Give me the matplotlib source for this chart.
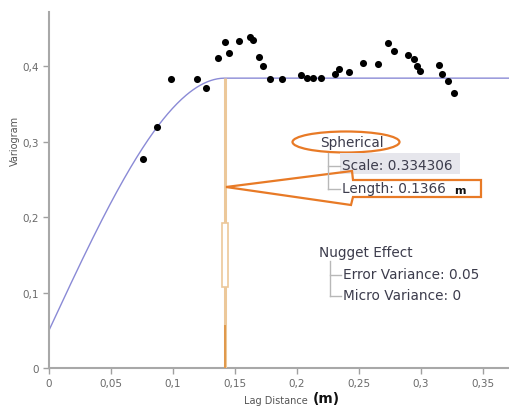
import numpy as np
import matplotlib
matplotlib.use("Agg")
import matplotlib.pyplot as plt
from matplotlib.patches import Ellipse, Polygon, Rectangle

# ---- data ----
lag = [0.0756, 0.0868, 0.0981, 0.1196, 0.1266, 0.1363, 0.1419, 0.1452, 0.1535,
       0.1621, 0.1648, 0.1691, 0.1723, 0.1782, 0.1882, 0.2030, 0.2078, 0.2132,
       0.2191, 0.2309, 0.2341, 0.2419, 0.2530, 0.2656, 0.2734, 0.2782, 0.2895,
       0.2946, 0.2970, 0.2995, 0.3143, 0.3167, 0.3220, 0.3264]
gamma = [0.277, 0.320, 0.383, 0.383, 0.371, 0.411, 0.432, 0.418, 0.434,
         0.439, 0.435, 0.412, 0.401, 0.383, 0.383, 0.389, 0.385, 0.384,
         0.384, 0.3895, 0.3966, 0.3926, 0.4045, 0.4028, 0.4306, 0.420, 0.415,
         0.4094, 0.400, 0.394, 0.4015, 0.3895, 0.380, 0.364]
nugget = 0.05
scale = 0.334306
model_range = 0.1419
xticks = [0, 0.05, 0.1, 0.15, 0.2, 0.25, 0.3, 0.35]
xticklabels = ["0", "0,05", "0,1", "0,15", "0,2", "0,25", "0,3", "0,35"]
yticks = [0, 0.1, 0.2, 0.3, 0.4]
yticklabels = ["0", "0,1", "0,2", "0,3", "0,4"]

W, H = 509, 410
fig = plt.figure(figsize=(W / 100, H / 100), dpi=100)
ax = fig.add_axes([49 / W, 1 - 369 / H, 460 / W, 356 / H])
ax.set_xlim(0, 0.371)
ax.set_ylim(0, 0.472)

def P(x, y):
    return (x / W, 1 - y / H)

# model curve
h = np.linspace(0, 0.371, 400)
r = np.clip(h / model_range, 0, 1)
g = nugget + scale * (1.5 * r - 0.5 * r ** 3)
ax.plot(h, g, color="#8a8ad6", lw=1.0, zorder=2)

# range marker line
sill = nugget + scale
ax.plot([model_range, model_range], [0, sill], color="#ecc89a", lw=2.2, zorder=3, solid_capstyle="butt")
ax.plot([model_range, model_range], [0, 0.056], color="#e0984a", lw=1.4, zorder=4)
ax.add_patch(Rectangle((model_range - 0.0024, 0.107), 0.0048, 0.085,
                       facecolor="white", edgecolor="#ecc89a", lw=1.2, zorder=5))

# points
ax.scatter(lag, gamma, s=26, color="black", zorder=6, linewidths=0)

# axes styling
for s in ["top", "right"]:
    ax.spines[s].set_visible(False)
for s in ["left", "bottom"]:
    ax.spines[s].set_color("#a8a8a8")
    ax.spines[s].set_linewidth(1.5)
ax.set_xticks(xticks)
ax.set_xticklabels(xticklabels)
ax.set_yticks(yticks)
ax.set_yticklabels(yticklabels)
ax.tick_params(colors="#a0a0a0", labelcolor="#6a6a6a", labelsize=7.5, length=4, width=1, direction="out", pad=3)

# axis labels
fig.text(*P(15, 141), "Variogram", rotation=90, ha="center", va="center", fontsize=7, color="#555555")
fig.text(*P(308, 401), "Lag Distance", ha="right", va="center", fontsize=7, color="#555555")
fig.text(*P(313, 399), "(m)", ha="left", va="center", fontsize=10, fontweight="bold", color="#111111")

txtc = "#3c3c4c"
orange = "#e87a26"
tr = fig.transFigure
fs = 9.8

# Spherical block
fig.text(*P(352, 143), "Spherical", ha="center", va="center", fontsize=fs, color=txtc)
fig.patches.append(Ellipse(P(346, 143), 107 / W, 21 / H, transform=tr, fill=False,
                           edgecolor=orange, lw=1.6))
fig.patches.append(Rectangle(P(340, 175), 120 / W, 21 / H, transform=tr,
                             facecolor="#e6e6ec", edgecolor="none"))
fig.lines.append(plt.Line2D([328 / W, 328 / W], [1 - 154 / H, 1 - 190 / H], transform=tr, color="#b8b8b8", lw=1))
fig.lines.append(plt.Line2D([328 / W, 340 / W], [1 - 167 / H, 1 - 167 / H], transform=tr, color="#b8b8b8", lw=1))
fig.lines.append(plt.Line2D([328 / W, 340 / W], [1 - 190 / H, 1 - 190 / H], transform=tr, color="#b8b8b8", lw=1))
fig.text(*P(342, 166), "Scale: 0.334306", ha="left", va="center", fontsize=fs, color=txtc)
fig.text(*P(342, 189), "Length: 0.1366", ha="left", va="center", fontsize=fs, color=txtc)
fig.text(*P(454, 191), "m", ha="left", va="center", fontsize=8, fontweight="bold", color="#111111")

# arrow callout
arrow_px = [(226, 188), (352, 172), (353, 181), (481, 181), (481, 198), (353, 198), (351, 206)]
fig.patches.append(Polygon([P(x, y) for x, y in arrow_px], closed=True, transform=tr,
                           fill=False, edgecolor=orange, lw=1.6))

# Nugget block
fig.text(*P(319, 253), "Nugget Effect", ha="left", va="center", fontsize=fs, color=txtc)
fig.lines.append(plt.Line2D([330 / W, 330 / W], [1 - 262 / H, 1 - 297 / H], transform=tr, color="#b8b8b8", lw=1))
fig.lines.append(plt.Line2D([330 / W, 341 / W], [1 - 276 / H, 1 - 276 / H], transform=tr, color="#b8b8b8", lw=1))
fig.lines.append(plt.Line2D([330 / W, 341 / W], [1 - 297 / H, 1 - 297 / H], transform=tr, color="#b8b8b8", lw=1))
fig.text(*P(343, 275), "Error Variance: 0.05", ha="left", va="center", fontsize=fs, color=txtc)
fig.text(*P(343, 296), "Micro Variance: 0", ha="left", va="center", fontsize=fs, color=txtc)

fig.savefig("out.png", dpi=100)
